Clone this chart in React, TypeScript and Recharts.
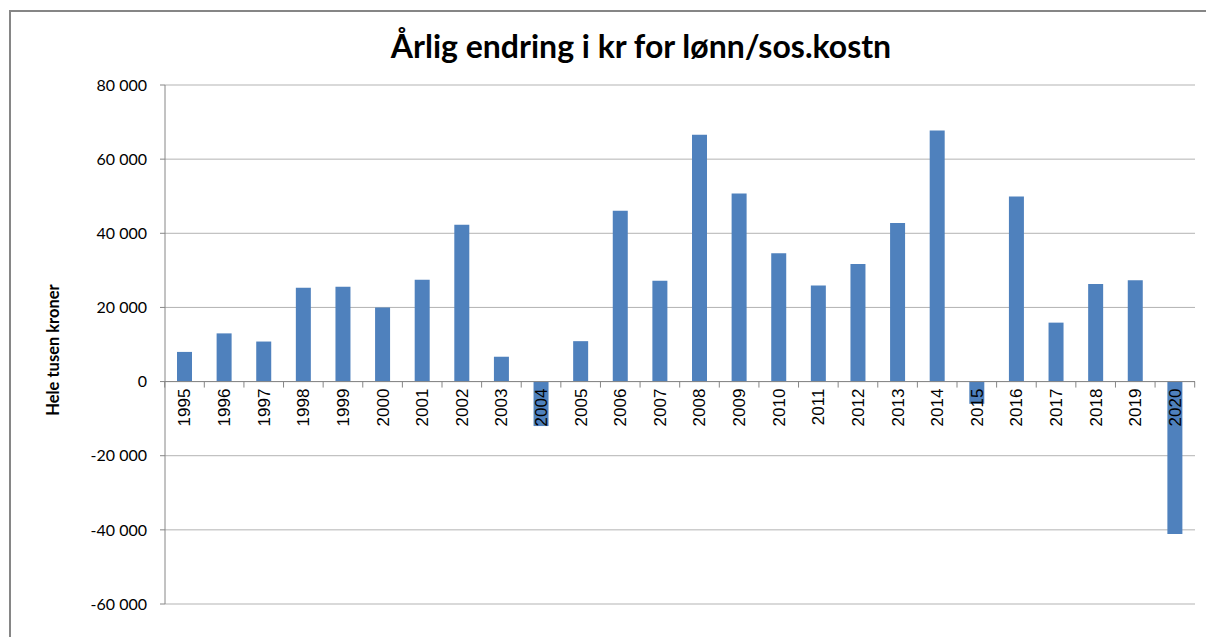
import { BarChart, Bar, YAxis, XAxis, CartesianGrid, ReferenceLine, LabelList } from "recharts";

const years = [
  "1995", "1996", "1997", "1998", "1999", "2000", "2001", "2002", "2003",
  "2004", "2005", "2006", "2007", "2008", "2009", "2010", "2011", "2012",
  "2013", "2014", "2015", "2016", "2017", "2018", "2019", "2020",
];

const changes = [
  8000, 13000, 10800, 25300, 25600, 20000, 27500, 42300, 6700,
  -12000, 10900, 46100, 27200, 66600, 50700, 34600, 25900, 31700,
  42800, 67700, -6000, 49900, 15900, 26300, 27300, -41100,
];

const yTicks = [-60000, -40000, -20000, 0, 20000, 40000, 60000, 80000];

const title = "Årlig endring i kr for lønn/sos.kostn";
const yLabel = "Hele tusen kroner";

const data = years.map((year, i) => ({ year, change: changes[i] }));

const CHART_W = 1206;
const CHART_H = 629;
const MARGIN = { top: 77, right: 19, bottom: 33, left: 0 };
const Y_AXIS_W = 157;
const BAND = (CHART_W - MARGIN.left - MARGIN.right - Y_AXIS_W) / years.length;

const AXIS_GRAY = "#868686";
const BAR_BLUE = "#4f81bd";

const fmt = (v: number) => {
  const s = Math.abs(v).toString().replace(/\B(?=(\d{3})+(?!\d))/g, " ");
  return v < 0 ? "-" + s : s;
};

// year labels + category tick marks sit on the zero line, like Excel does it
function YearLabel(props: any) {
  const vb = props.viewBox ?? props;
  const x = vb.x ?? props.x;
  const y = vb.y ?? props.y;
  const width = vb.width ?? props.width;
  const height = vb.height ?? props.height;
  const { value, index } = props;
  const val = changes[index];
  const zero = height < 0 ? y + height : val >= 0 ? y + height : y;
  const cx = x + width / 2;
  const left = cx - BAND / 2;
  const right = cx + BAND / 2;
  return (
    <g>
      <line x1={left} x2={left} y1={zero} y2={zero + 6} stroke={AXIS_GRAY} />
      {index === years.length - 1 && (
        <line x1={right} x2={right} y1={zero} y2={zero + 6} stroke={AXIS_GRAY} />
      )}
      <text
        x={cx}
        y={zero + 7}
        dy="0.35em"
        textAnchor="end"
        transform={`rotate(-90, ${cx}, ${zero + 7})`}
        fontFamily="'Liberation Sans', Arial, sans-serif"
        fontSize={17}
        fill="#000"
      >
        {value}
      </text>
    </g>
  );
}

export default function App() {
  return (
    <div style={{ position: "relative", width: CHART_W, height: CHART_H, overflow: "hidden" }}>
      <div
        style={{
          position: "absolute",
          left: 1,
          top: 2,
          width: 1400,
          height: 800,
          borderLeft: `2px solid ${AXIS_GRAY}`,
          borderTop: `2px solid ${AXIS_GRAY}`,
        }}
      />
      <BarChart
        width={CHART_W}
        height={CHART_H}
        data={data}
        margin={MARGIN}
        barSize={15}
        style={{ position: "absolute", left: 0, top: 0 }}
      >
        <CartesianGrid vertical={false} stroke="#b3b3b3" />
        <XAxis dataKey="year" hide />
        <YAxis
          width={Y_AXIS_W}
          domain={[-60000, 80000]}
          ticks={yTicks}
          tickFormatter={fmt}
          interval={0}
          tickSize={5}
          tickMargin={13}
          stroke={AXIS_GRAY}
          tick={{ fill: "#000", fontSize: 16, fontFamily: "Lato, sans-serif" }}
        />
        <ReferenceLine y={0} stroke={AXIS_GRAY} />
        <Bar dataKey="change" fill={BAR_BLUE} isAnimationActive={false}>
          <LabelList dataKey="year" content={<YearLabel />} />
        </Bar>
        <text
          x={633}
          y={50}
          textAnchor="middle"
          fontFamily="Lato, sans-serif"
          fontWeight="bold"
          fontSize={32}
          fill="#000"
        >
          {title}
        </text>
        <text
          x={51}
          y={342}
          textAnchor="middle"
          transform="rotate(-90, 51, 342)"
          fontFamily="Lato, sans-serif"
          fontWeight="bold"
          fontSize={16.5}
          fill="#000"
        >
          {yLabel}
        </text>
      </BarChart>
    </div>
  );
}
